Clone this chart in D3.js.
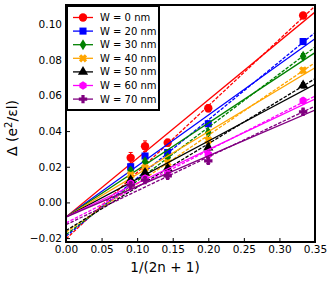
<!DOCTYPE html>
<html><head><meta charset="utf-8">
<script src="https://cdn.jsdelivr.net/npm/d3@7"></script>
<style>body{margin:0;background:#fff}svg{display:block}</style>
</head><body><svg id="c" width="332" height="285"></svg>
<script>
const xPoints = [0.0909, 0.1111, 0.1429, 0.2, 0.3333];
const seriesNames = ["W = 0 nm","W = 20 nm","W = 30 nm","W = 40 nm","W = 50 nm","W = 60 nm","W = 70 nm"];
const colors = ["#ff0000","#0000ff","#008000","#ffa500","#000000","#ff00ff","#800080"];
const markers = ["circle","square","thin_diamond","x","triangle","hexagon","plus"];
const yW0  = [0.0250, 0.0315, 0.0335, 0.0528, 0.1048];
const yW20 = [0.0200, 0.0260, 0.0280, 0.0441, 0.0902];
const yW30 = [0.0177, 0.0228, 0.0252, 0.0392, 0.0820];
const yW40 = [0.0153, 0.0194, 0.0222, 0.0349, 0.0740];
const yW50 = [0.0125, 0.0166, 0.0191, 0.0308, 0.0656];
const yW60 = [0.0106, 0.0135, 0.0159, 0.0269, 0.0570];
const yW70 = [0.0097, 0.0125, 0.0149, 0.0233, 0.0508];
const errW0 = [0.0030, 0.0030, 0.0020, 0.0020, 0.0015];
const errOther = [0.0015, 0.0015, 0.0015, 0.0015, 0.0015];
// solid fits (common intercept) and dashed fits
const solidIntercept = -0.0082;
const solidSlopes = [0.3283, 0.2857, 0.2634, 0.2391, 0.2126, 0.1891, 0.1714];
const dashIntercepts = [-0.0205, -0.0190, -0.0180, -0.0167, -0.0158, -0.0115, -0.0125];
const dashSlopes = [0.3731, 0.3263, 0.3003, 0.2717, 0.2434, 0.2032, 0.1900];
const xTicks = [0,0.05,0.10,0.15,0.20,0.25,0.30,0.35];
const yTicks = [-0.02,0,0.02,0.04,0.06,0.08,0.10];
const yValues = [yW0,yW20,yW30,yW40,yW50,yW60,yW70];

const svg = d3.select("#c");
const x = d3.scaleLinear().domain([0,0.35]).range([66,315]);
const y = d3.scaleLinear().domain([-0.0222,0.1107]).range([242,5]);
const font = "DejaVu Sans, sans-serif";

svg.append("defs").append("clipPath").attr("id","clip")
  .append("rect").attr("x",66).attr("y",5).attr("width",249).attr("height",237);

function markerPath(type){
  const r = 4.2;
  if(type==="circle") return d3.symbol(d3.symbolCircle, 55)();
  if(type==="square") return d3.symbol(d3.symbolSquare, 50)();
  if(type==="triangle") return d3.symbol(d3.symbolTriangle, 45)();
  if(type==="thin_diamond") return `M0,${-r*1.3}L${r*0.8},0L0,${r*1.3}L${-r*0.8},0Z`;
  if(type==="hexagon"){
    const pts = d3.range(6).map(i=>{const a=Math.PI/6+i*Math.PI/3;return [r*Math.cos(a), r*Math.sin(a)];});
    return "M"+pts.map(p=>p.join(",")).join("L")+"Z";
  }
  const a=r, b=r*0.38;
  return `M${-b},${-a}H${b}V${-b}H${a}V${b}H${b}V${a}H${-b}V${b}H${-a}V${-b}H${-b}Z`;
}
function markerTransform(type,px,py){
  return type==="x" ? `translate(${px},${py}) rotate(45)` : `translate(${px},${py})`;
}

const plot = svg.append("g").attr("clip-path","url(#clip)");
const line = d3.line().x(d=>x(d[0])).y(d=>y(d[1]));

seriesNames.forEach((name,i)=>{
  const g = plot.append("g");
  const vals = yValues[i];
  const errs = i===0 ? errW0 : errOther;
  g.append("path").attr("d", line([[0,solidIntercept],[0.35,solidIntercept+solidSlopes[i]*0.35]]))
    .attr("stroke",colors[i]).attr("stroke-width",1.3).attr("fill","none");
  g.append("path").attr("d", line([[0,dashIntercepts[i]],[0.35,dashIntercepts[i]+dashSlopes[i]*0.35]]))
    .attr("stroke",colors[i]).attr("stroke-width",1.3).attr("fill","none").attr("stroke-dasharray","3.5,1.5");
  xPoints.forEach((xv,j)=>{
    const px=x(xv);
    g.append("line").attr("x1",px).attr("x2",px).attr("y1",y(vals[j]-errs[j])).attr("y2",y(vals[j]+errs[j]))
      .attr("stroke",colors[i]).attr("stroke-width",1.2);
    [vals[j]-errs[j], vals[j]+errs[j]].forEach(v=>{
      g.append("line").attr("x1",px-2).attr("x2",px+2).attr("y1",y(v)).attr("y2",y(v))
        .attr("stroke",colors[i]).attr("stroke-width",1);
    });
    g.append("path").attr("d",markerPath(markers[i])).attr("transform",markerTransform(markers[i],px,y(vals[j])))
      .attr("fill",colors[i]);
  });
});

const xAxis = d3.axisBottom(x).tickValues(xTicks).tickFormat(d3.format(".2f")).tickSizeInner(-4).tickSizeOuter(0).tickPadding(3);
const yAxis = d3.axisLeft(y).tickValues(yTicks).tickFormat(d=>d3.format(".2f")(d).replace("-","\u2212")).tickSizeInner(-4).tickSizeOuter(0).tickPadding(4);
const gx = svg.append("g").attr("transform","translate(0,242)").call(xAxis);
const gy = svg.append("g").attr("transform","translate(66,0)").call(yAxis);
[gx,gy].forEach(g=>{
  g.select(".domain").remove();
  g.selectAll("text").attr("font-family",font).attr("font-size",10.5).attr("fill","#000");
  g.selectAll("line").attr("stroke","#000").attr("stroke-width",1);
});
gx.selectAll("text").attr("dy","0.72em");

svg.append("rect").attr("x",66).attr("y",5).attr("width",249).attr("height",237)
  .attr("fill","none").attr("stroke","#000").attr("stroke-width",2);

const lg = svg.append("g");
lg.append("rect").attr("x",67).attr("y",6).attr("width",92).attr("height",104)
  .attr("fill","#fff").attr("stroke","#000").attr("stroke-width",2);
seriesNames.forEach((name,i)=>{
  const ly = 17.5 + i*13.6;
  lg.append("line").attr("x1",73).attr("x2",93).attr("y1",ly).attr("y2",ly).attr("stroke",colors[i]).attr("stroke-width",1.3);
  lg.append("path").attr("d",markerPath(markers[i])).attr("transform",markerTransform(markers[i],83,ly)).attr("fill",colors[i]);
  lg.append("text").attr("x",100).attr("y",ly).attr("dy","0.35em").attr("font-family",font).attr("font-size",10)
    .attr("fill","#000").text(name);
});

svg.append("text").attr("x",165).attr("y",272).attr("text-anchor","middle").attr("font-family",font)
  .attr("font-size",13.5).attr("fill","#000").text("1/(2n + 1)");
const yl = svg.append("text").attr("transform","translate(17,128) rotate(-90)").attr("text-anchor","middle")
  .attr("font-family",font).attr("font-size",14).attr("fill","#000");
yl.append("tspan").text("Δ (e");
yl.append("tspan").attr("font-size",10).attr("dy",-5).text("2");
yl.append("tspan").attr("dy",5).text("/εl)");
</script></body></html>
